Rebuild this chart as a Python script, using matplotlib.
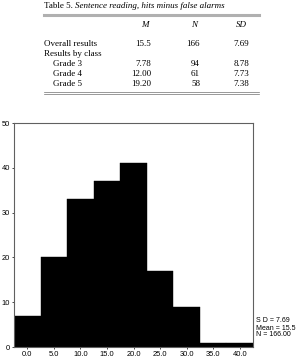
import numpy as np
from matplotlib import pyplot as plt

# histogram data (bin centers, counts)
centers = [0.0, 5.0, 10.0, 15.0, 20.0, 25.0, 30.0, 35.0, 40.0]
counts = [7, 20, 33, 37, 41, 17, 9, 1, 1]
y_ticks = [0, 10, 20, 30, 40, 50]

# table contents
row_labels = ["Overall results", "Results by class", "Grade 3", "Grade 4", "Grade 5"]
col_M = ["15.5", "", "7.78", "12.00", "19.20"]
col_N = ["166", "", "94", "61", "58"]
col_SD = ["7.69", "", "8.78", "7.73", "7.38"]
stats = ["S D = 7.69", "Mean = 15.5", "N = 166.00"]

W, H = 297, 361
fig = plt.figure(figsize=(W / 100, H / 100), dpi=100)

serif = "Liberation Serif"
sans = "Liberation Sans"
fs = 6.5

def fx(px):
    return px / W

def fy(px):
    return 1 - px / H

# --- table ---
t = fig.text(fx(44), fy(6), "Table 5. ", family=serif, fontsize=fs, va="center", ha="left")
fig.text(fx(75), fy(6), "Sentence reading, hits minus false alarms", family=serif,
         fontsize=fs, style="italic", va="center", ha="left")
fig.add_artist(plt.Line2D([fx(44), fx(259)], [fy(14.5), fy(14.5)], color="#b0b0b0", lw=2.2))
fig.text(fx(145), fy(25), "M", family=serif, style="italic", fontsize=fs, ha="center", va="center")
fig.text(fx(194), fy(25), "N", family=serif, style="italic", fontsize=fs, ha="center", va="center")
fig.text(fx(241), fy(25), "SD", family=serif, style="italic", fontsize=fs, ha="center", va="center")

row_y = [44, 54, 64, 74, 84]
for i, lab in enumerate(row_labels):
    x0 = 44 if i < 2 else 53
    fig.text(fx(x0), fy(row_y[i]), lab, family=serif, fontsize=fs, ha="left", va="center")
    fig.text(fx(151), fy(row_y[i]), col_M[i], family=serif, fontsize=fs, ha="right", va="center")
    fig.text(fx(200), fy(row_y[i]), col_N[i], family=serif, fontsize=fs, ha="right", va="center")
    fig.text(fx(249), fy(row_y[i]), col_SD[i], family=serif, fontsize=fs, ha="right", va="center")
for yy in [91.5, 94]:
    fig.add_artist(plt.Line2D([fx(44), fx(259)], [fy(yy), fy(yy)], color="#707070", lw=0.5))

# --- histogram ---
ax = fig.add_axes([fx(14), fy(347), fx(253) - fx(14), fy(123) - fy(347)])
ax.bar(centers, counts, width=5.0, color="black", edgecolor="black", linewidth=0.3)
ax.set_xlim(-2.5, 42.5)
ax.set_ylim(0, 50)
ax.set_xticks(centers)
ax.set_xticklabels([f"{c:.1f}" for c in centers])
ax.set_yticks(y_ticks)
ax.tick_params(labelsize=5.4, length=1.5, width=0.5, pad=1.5, colors="black")
for lab in ax.get_xticklabels() + ax.get_yticklabels():
    lab.set_family(sans)
for s in ax.spines.values():
    s.set_color("#606060")
    s.set_linewidth(0.8)

for i, t in enumerate(stats):
    fig.text(fx(256), fy(321 + 7 * i), t, family=sans, fontsize=5.0, ha="left", va="center")

fig.savefig("out.png", dpi=100)
